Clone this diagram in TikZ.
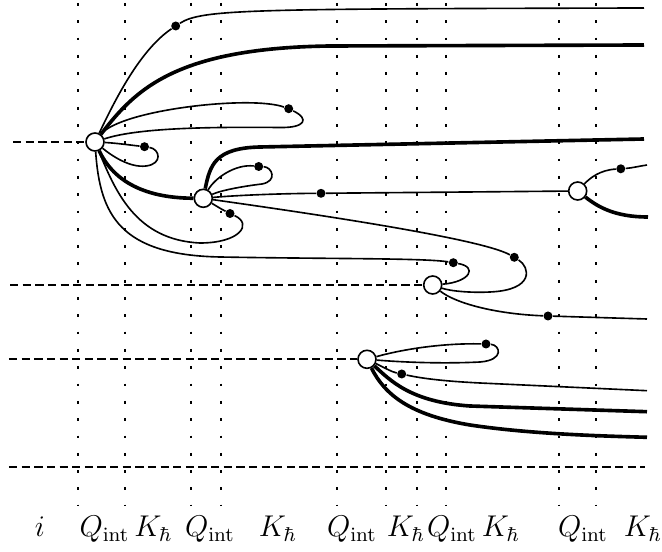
\documentclass[tikz,border=0pt]{standalone}
\usetikzlibrary{backgrounds}
\begin{document}
\begin{tikzpicture}[x=0.4pt,y=-0.4pt,
  vtx/.style={circle,draw,fill=white,minimum size=7.2pt,inner sep=0pt,line width=0.65pt},
  bdot/.style={circle,fill=black,minimum size=3.6pt,inner sep=0pt},
  thinl/.style={line width=0.65pt},
  thickl/.style={line width=1.45pt},
  gridl/.style={line width=0.75pt,dash pattern=on 1.1pt off 5.82pt},
  hdash/.style={line width=0.7pt,dash pattern=on 3.3pt off 1.75pt},
  lab/.style={anchor=base,inner sep=0pt,font=\fontsize{12}{14}\selectfont}
]
\useasboundingbox (0,0) rectangle (662,552);
% vertices
\node[vtx] (v1) at (95,142) {};
\node[vtx] (v2) at (203.3,198.3) {};
\node[vtx] (v3) at (577.7,191) {};
\node[vtx] (v4) at (432.7,285) {};
\node[vtx] (v5) at (367,359.3) {};
% dots
\node[bdot] (d1) at (175.7,26) {};
\node[bdot] (d2) at (288.7,108.7) {};
\node[bdot] (d3) at (144.5,146.7) {};
\node[bdot] (d4) at (230,213.5) {};
\node[bdot] (d5) at (453.3,262.7) {};
\node[bdot] (d6) at (258.7,166.5) {};
\node[bdot] (d7) at (321,193.3) {};
\node[bdot] (d8) at (514.3,257.3) {};
\node[bdot] (d9) at (620.8,168.8) {};
\node[bdot] (d10) at (548,316) {};
\node[bdot] (d11) at (486,344) {};
\node[bdot] (d12) at (401.7,374) {};
% free ends
\coordinate (e1) at (644,8);
\coordinate (e2) at (644,45);
\coordinate (e8) at (644,139);
\coordinate (e12) at (647,165);
\coordinate (e13) at (648,217);
\coordinate (e14) at (647,319);
\coordinate (e16) at (647,390.7);
\coordinate (e17) at (647,411.7);
\coordinate (e18) at (647,437.3);
\coordinate (h1) at (13,142);
\coordinate (h2) at (10,285);
\coordinate (h3) at (9,359.3);
\coordinate (h4a) at (9,467.3);
\coordinate (h4b) at (645,467.3);
% labels
\node[lab] (l0) at (40,537) {$i$};
\node[lab] (l1) at (104.5,537) {$Q_{\mathrm{int}}$};
\node[lab] (l2) at (153.5,537) {$K_{\hbar}$};
\node[lab] (l3) at (210,537) {$Q_{\mathrm{int}}$};
\node[lab] (l4) at (278,537) {$K_{\hbar}$};
\node[lab] (l5) at (352,537) {$Q_{\mathrm{int}}$};
\node[lab] (l6) at (406,537) {$K_{\hbar}$};
\node[lab] (l7) at (452,537) {$Q_{\mathrm{int}}$};
\node[lab] (l8) at (501,537) {$K_{\hbar}$};
\node[lab] (l9) at (583,537) {$Q_{\mathrm{int}}$};
\node[lab] (l10) at (643,537) {$K_{\hbar}$};
\begin{scope}[on background layer]
  \foreach \gx in {78,125,191,221,337,386,417,446,559,596}
    \draw[gridl] (\gx,3) -- (\gx,505);
  \draw[hdash] (h1) -- (v1);
  \draw[hdash] (h2) -- (v4);
  \draw[hdash] (h3) -- (v5);
  \draw[hdash] (h4a) -- (h4b);
  % edges from v1
  \draw[thinl] (v1) .. controls (115,100) and (140,50) .. (d1) .. controls (202,9) and (250,9) .. (e1);
  \draw[thickl] (v1) .. controls (135,90) and (175,48) .. (330,46) -- (e2);
  \draw[thinl] (v1) .. controls (120,110) and (250,95) .. (d2) .. controls (310,119) and (305,128) .. (280,127.5) .. controls (220,127) and (140,127) .. (v1);
  \draw[thinl] (v1) .. controls (115,143) and (130,145) .. (d3) .. controls (160,149) and (163,164) .. (146,166) .. controls (130,168) and (112,156) .. (v1);
  \draw[thickl] (v1) .. controls (112,178) and (140,198) .. (v2);
  \draw[thinl] (v1) .. controls (115,190) and (135,240) .. (200,243) .. controls (240,243) and (253,224) .. (d4) .. controls (221,209) and (213,204) .. (v2);
  \draw[thinl] (v1) .. controls (100,215) and (120,255) .. (220,257) .. controls (330,259) and (425,258) .. (d5) .. controls (478,267) and (470,282) .. (v4);
  % edges from v2
  \draw[thickl] (v2) .. controls (210,165) and (215,148) .. (260,147) -- (e8);
  \draw[thinl] (v2) .. controls (215,178) and (235,164) .. (d6) .. controls (272,167) and (278,181) .. (262,184) .. controls (245,186) and (222,190) .. (v2);
  \draw[thinl] (v2) .. controls (240,195) and (285,193.5) .. (d7) -- (v3);
  \draw[thinl] (v2) .. controls (300,212) and (480,238) .. (d8) .. controls (530,267) and (535,290) .. (490,292) .. controls (470,293) and (450,291) .. (v4);
  % edges from v3
  \draw[thinl] (v3) .. controls (590,178) and (600,170) .. (d9) .. controls (632,168) and (640,166) .. (e12);
  \draw[thickl] (v3) .. controls (598,207) and (615,217) .. (e13);
  % edges from v4
  \draw[thinl] (v4) .. controls (455,303) and (495,314) .. (d10) -- (e14);
  % edges from v5
  \draw[thinl] (v5) .. controls (400,350) and (440,343) .. (d11) .. controls (500,345) and (505,360) .. (480,362) .. controls (440,364) and (400,362) .. (v5);
  \draw[thinl] (v5) .. controls (385,368) and (392,372) .. (d12) .. controls (420,378) and (440,381) .. (480,383) -- (e16);
  \draw[thickl] (v5) .. controls (390,380) and (410,402) .. (470,406) -- (e17);
  \draw[thickl] (v5) .. controls (385,395) and (410,415) .. (470,425) .. controls (530,434) and (600,436) .. (e18);
\end{scope}
\end{tikzpicture}
\end{document}
